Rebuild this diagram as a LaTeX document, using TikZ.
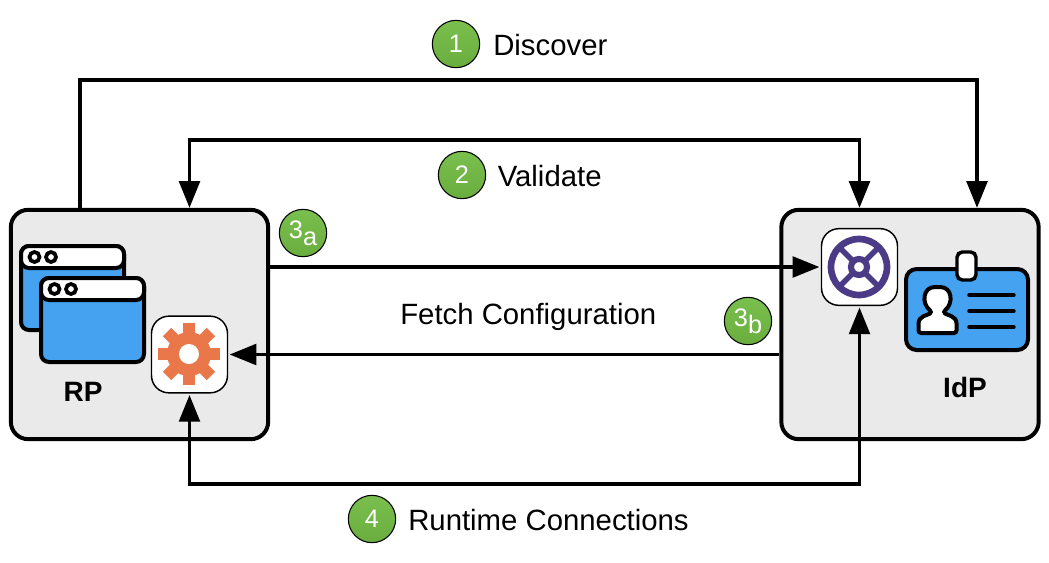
\documentclass[tikz,border=0pt]{standalone}
\usepackage{fontspec}
\setmainfont{Liberation Sans}
\usetikzlibrary{arrows.meta}
\definecolor{boxgrey}{HTML}{EAEAEA}
\definecolor{iconblue}{HTML}{45A2F0}
\definecolor{gearorange}{HTML}{E9774A}
\definecolor{wheelpurple}{HTML}{4B3B87}
\definecolor{ballgreen}{HTML}{72BC43}

\begin{document}
\begin{tikzpicture}[x=0.75pt,y=-0.75pt]
    \tikzstyle{party} = [rectangle, draw, line width=3pt, fill=boxgrey,
               rounded corners=13pt, inner sep=0pt, minimum width=193pt,
               minimum height=172pt]
    \tikzstyle{tile} = [rectangle, draw, line width=1.1pt, fill=white,
               rounded corners=13pt, minimum width=57pt, minimum height=57.5pt,
               inner sep=0pt, outer sep=1.6pt]
    \tikzstyle{ball} = [circle, draw, line width=0.8pt, top color=ballgreen!94!white,
               bottom color=ballgreen!92!black, text=white, inner sep=0pt,
               minimum size=35.5pt, font=\fontsize{19}{19}\selectfont]
    \tikzstyle{caption} = [inner sep=0pt, anchor=west, font=\fontsize{22}{26}\selectfont]
    \tikzstyle{partyname} = [inner sep=0pt, font=\fontsize{21}{24}\selectfont\bfseries]
    \tikzstyle{line} = [draw, line width=2.5pt]
    \tikzstyle{flow} = [line, -{Triangle[length=20pt,width=15.5pt]}]
    \tikzstyle{flowboth} = [line, {Triangle[length=20pt,width=15.5pt]}-{Triangle[length=20pt,width=15.5pt]}]
    \tikzstyle{icon} = [draw, line width=3pt, rounded corners=6pt]

    \useasboundingbox (0,0) rectangle (1049,562);

    % Define boxes
    \node [party] (rp) at (139.5,324.5) {};
    \node [party] (idp) at (910,324.5) {};
    \node [tile] (geartile) at (189.5,354.5) {};
    \node [tile] (wheeltile) at (859.5,267) {};

    % Rails of the connectors
    \coordinate (discoverleft) at (80,80);
    \coordinate (discoverright) at (977,80);
    \coordinate (validaterail) at (500,140);
    \coordinate (runtimerail) at (500,484);

    % Draw connectors
    \draw [flow] (rp.north -| discoverleft) -- (discoverleft) -- (discoverright) -- (idp.north -| discoverright);
    \draw [flowboth] (rp.north -| geartile.north) |- (validaterail) -| (idp.north -| wheeltile.north);
    \draw [flow] (rp.east |- wheeltile.west) -- (wheeltile.west);
    \draw [flow] (idp.west |- geartile.east) -- (geartile.east);
    \draw [flowboth] (geartile.south) |- (runtimerail) -| (wheeltile.south);

    % Browser windows
    \foreach \wx/\wy in {21/246, 41/278} {
      \draw [icon, fill=iconblue] (\wx,\wy) rectangle +(103,84);
      \draw [icon, fill=white] (\wx,\wy) rectangle +(103,22);
      \draw [line width=2.8pt] (\wx+13.5,\wy+11) circle (5) (\wx+30,\wy+11) circle (5);
    }

    % Gear
    \begin{scope}[shift={(189,354)}]
      \foreach \a in {0,45,...,315} {
        \fill [gearorange, rotate=\a] (-6,-31) rectangle (6,0);
      }
      \fill [gearorange] (0,0) circle (22);
      \fill [white] (0,0) circle (10);
    \end{scope}

    % Wheel
    \begin{scope}[shift={(859,267)}]
      \draw [wheelpurple, line width=5pt] (0,0) circle (28);
      \foreach \a in {45,135,225,315} {
        \draw [wheelpurple, line width=4.2pt, rotate=\a] (0,-8) -- (0,-28);
      }
      \draw [wheelpurple, line width=4.6pt] (0,0) circle (8);
    \end{scope}

    % Id card
    \draw [icon, fill=iconblue, rounded corners=8pt] (906,269) rectangle (1028,350);
    \draw [line width=2.6pt, fill=white, rounded corners=4pt] (957,252) rectangle (976,280);
    \draw [line width=3pt, fill=white, rounded corners=2pt] (918.5,333) -- (918.5,326)
    .. controls (918.5,316) and (928,315) .. (932,312) .. controls (921,303) and (923,287) .. (937.5,287)
    .. controls (952,287) and (954,303) .. (943,312) .. controls (947,315) and (956.5,316) .. (956.5,326)
    -- (956.5,333) -- cycle;
    \foreach \ly in {295,311,327} {
      \draw [line width=2.6pt, line cap=round] (969,\ly) -- (1014,\ly);
    }

    % Names
    \node [partyname] (rpname) at (83,392) {RP};
    \node [partyname] (idpname) at (965,387) {IdP};

    % Steps
    \node [ball] (stepone) at (456,44) {1};
    \node [caption] (discover) at (493,45) {Discover};
    \node [ball] (steptwo) at (462,175) {2};
    \node [caption] (validate) at (497.5,176) {Validate};
    \node [ball] (stepthreea) at (303,233) {3\raisebox{-5pt}{a}};
    \node [ball] (stepthreeb) at (748,321) {3\raisebox{-5pt}{b}};
    \node [caption] (fetch) at (400,317) {Fetch Configuration};
    \node [ball] (stepfour) at (372,519) {4};
    \node [caption] (runtime) at (408,520) {Runtime Connections};
\end{tikzpicture}
\end{document}
